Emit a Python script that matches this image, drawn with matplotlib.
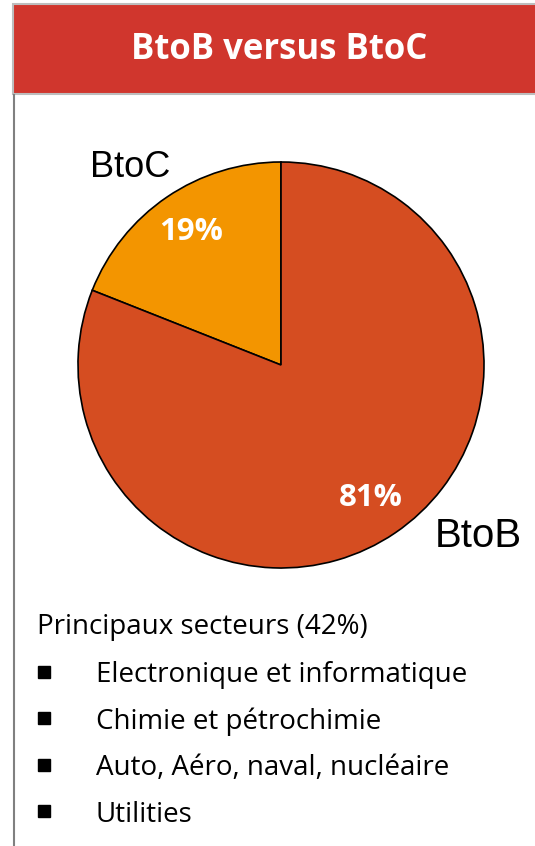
import matplotlib
matplotlib.use("Agg")
import matplotlib.pyplot as plt
from matplotlib.patches import Rectangle
from matplotlib.lines import Line2D

plt.rcParams['font.family'] = ['Open Sans', 'DejaVu Sans']

title = "BtoB versus BtoC"
categories = ["BtoC", "BtoB"]
shares = [19, 81]
colors = ["#F39500", "#D54D21"]
# label positions in pie data units (radius = 1) and sizes
label_pos = [(-0.745, 0.975), (0.97, -0.84)]
label_size = [26, 29]

list_header = "Principaux secteurs (42%)"
sectors = ["Electronique et informatique", "Chimie et pétrochimie",
           "Auto, Aéro, naval, nucléaire", "Utilities"]

W, H = 535, 846
fig = plt.figure(figsize=(W / 100, H / 100), dpi=100)
fig.patch.set_facecolor("white")

def fx(px):
    return px / W

def fy(py):
    return 1 - py / H

# title bar
fig.patches.append(Rectangle((fx(13), fy(94)), fx(540 - 13), (94 - 4) / H,
                             transform=fig.transFigure, facecolor="#D0362D",
                             edgecolor="#BDBDBD", linewidth=1.5))
fig.text(fx(279), fy(50), title, color="white", fontsize=25, fontweight="bold",
         ha="center", va="center")
# left border line
fig.lines.append(Line2D([fx(14), fx(14)], [fy(95), 0], transform=fig.transFigure,
                        color="#808080", linewidth=1.5))

# pie
cx, cy, r = 281, 365, 203
ax = fig.add_axes([fx(cx - r), fy(cy + r), 2 * r / W, 2 * r / H])
wedges, texts, autotexts = ax.pie(
    shares, colors=colors, startangle=90, counterclock=True,
    autopct="%d%%", pctdistance=0.79,
    wedgeprops=dict(edgecolor="black", linewidth=1.2),
    textprops=dict(color="white", fontsize=22.5, fontweight="bold"))
ax.set_xlim(-1, 1)
ax.set_ylim(-1, 1)
ax.set_aspect("equal")
for name, (lx, ly), sz in zip(categories, label_pos, label_size):
    ax.text(lx, ly, name, fontsize=sz, color="black", ha="center", va="center",
            family=["Liberation Sans"], clip_on=False)

# sector list (text placed on its baseline)
fig.text(fx(37), fy(634), list_header, fontsize=20, va="baseline", ha="left")
for i, s in enumerate(sectors):
    y = 671.5 + i * 46.5
    fig.lines.append(Line2D([fx(43.5)], [fy(y)], transform=fig.transFigure,
                            marker="s", markersize=8, color="black",
                            linestyle="none"))
    fig.text(fx(96), fy(y + 10.5), s, fontsize=20, va="baseline", ha="left")

fig.savefig("out.png", dpi=100)
